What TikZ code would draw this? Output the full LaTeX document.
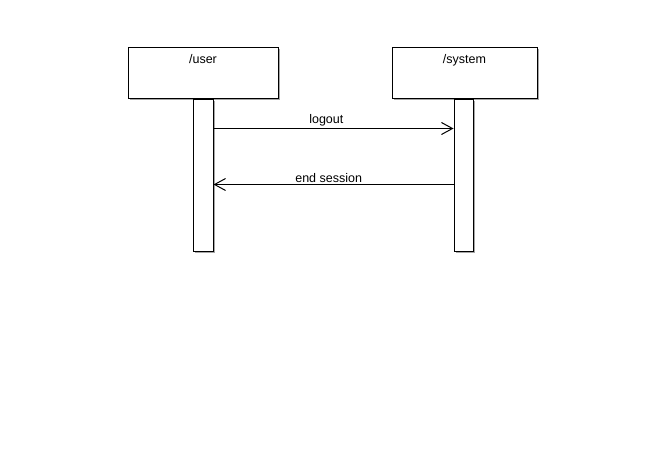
\documentclass[tikz,border=0pt]{standalone}
\usepackage{fontspec}
\setmainfont{Liberation Sans}
\usetikzlibrary{arrows.meta,calc,positioning,shadows}
\tikzset{
  objbox/.style={draw,fill=white,line width=1pt,minimum height=50pt,inner sep=0pt,
    drop shadow={shadow xshift=1.5pt,shadow yshift=-1.5pt,fill=black!35,opacity=1}},
  actbar/.style={draw,fill=white,line width=1pt,minimum width=20pt,minimum height=152pt,inner sep=0pt,
    drop shadow={shadow xshift=1.5pt,shadow yshift=-1.5pt,fill=black!35,opacity=1}},
  msg/.style={line width=1pt,-{Straight Barb[length=11pt,width=12pt,line width=1pt]}},
  txt/.style={font=\fontsize{12.5}{14}\selectfont}
}
\begin{document}
\begin{tikzpicture}[x=1pt,y=-1pt]
  \useasboundingbox (0,0) rectangle (664,460);
  % lifelines
  \node[objbox,minimum width=150pt,label={[txt,anchor=north,inner sep=7pt]north:/user}] (user) at (203,73) {};
  \node[objbox,minimum width=145pt,right=113pt of user,label={[txt,anchor=north,inner sep=7pt]north:/system}] (system) {};
  \node[actbar,below=0pt of user] (userbar) {};
  \node[actbar,minimum width=19pt,below=0pt of system,xshift=-1pt] (systembar) {};
  % messages
  \coordinate (m1s) at ($(userbar.north east)+(0,30)$);
  \coordinate (m1e) at ($(systembar.north west)+(0,30)$);
  \coordinate (m2s) at ($(systembar.north west)+(0,86)$);
  \coordinate (m2e) at ($(userbar.north east)+(0,86)$);
  \draw[msg] (m1s) -- node[txt,above,pos=0.47,inner sep=1.5pt] (lbl1) {logout} (m1e);
  \draw[msg] (m2s) -- node[txt,above,pos=0.52,inner sep=1.5pt] (lbl2) {end session} (m2e);
\end{tikzpicture}
\end{document}
